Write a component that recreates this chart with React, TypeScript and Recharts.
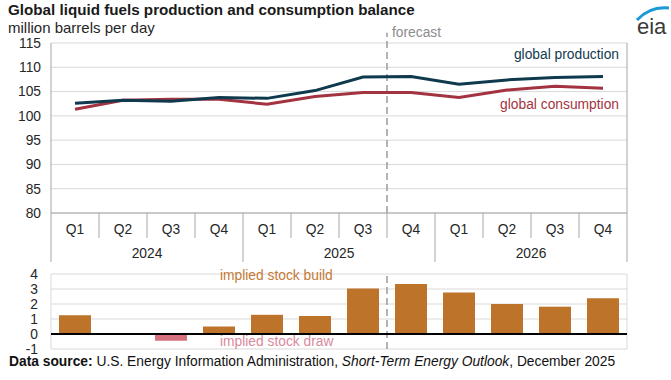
import React from "react";
import { LineChart, Line, BarChart, Bar, Cell, XAxis, YAxis, CartesianGrid, ReferenceLine } from "recharts";

const quarters = ["Q1", "Q2", "Q3", "Q4", "Q1", "Q2", "Q3", "Q4", "Q1", "Q2", "Q3", "Q4"];
const years = ["2024", "2025", "2026"];
const production = [102.6, 103.2, 103.0, 103.8, 103.6, 105.2, 108.0, 108.1, 106.5, 107.4, 107.9, 108.1];
const consumption = [101.35, 103.2, 103.4, 103.4, 102.4, 104.0, 104.8, 104.8, 103.8, 105.3, 106.1, 105.7];
const stockChange = [1.25, 0, -0.45, 0.5, 1.28, 1.2, 3.04, 3.34, 2.77, 2.0, 1.82, 2.39];
const topTicks = [80, 85, 90, 95, 100, 105, 110, 115];
const bottomTicks = [-1, 0, 1, 2, 3, 4];
const forecastStart = 7;

const FONT = '"Liberation Sans", Arial, sans-serif';
const PLOT_W = 576;
const BAND = PLOT_W / quarters.length;
const GRID = "#d9d9d9";
const SEP = "#a6a6a6";

const data = quarters.map((q, i) => ({
  x: i + 0.5,
  production: production[i],
  consumption: consumption[i],
  stock: stockChange[i],
}));
const centers = data.map((d) => d.x);

function QuarterTick(props: any) {
  const { x, y, payload } = props;
  const i = Math.floor(payload.value);
  const left = x - BAND / 2;
  const right = x + BAND / 2;
  return (
    <g>
      <line x1={left} x2={left} y1={y} y2={y + (i % 4 === 0 ? 49 : 25)} stroke={SEP} />
      {i === quarters.length - 1 && <line x1={right} x2={right} y1={y} y2={y + 49} stroke={SEP} />}
      <text x={x} y={y + 16} textAnchor="middle" dominantBaseline="central" fontSize={13.8} fill="#262626" fontFamily={FONT}>
        {quarters[i]}
      </text>
      {i % 4 === 1 && (
        <text x={right} y={y + 40} textAnchor="middle" dominantBaseline="central" fontSize={13.8} fill="#262626" fontFamily={FONT}>
          {years[Math.floor(i / 4)]}
        </text>
      )}
    </g>
  );
}

function EiaLogo() {
  return (
    <svg width={40} height={38} style={{ position: "absolute", left: 632, top: 2 }}>
      <path d="M5 18 Q 18 4 37 6" stroke="#1a9bd7" strokeWidth={3} fill="none" />
      <text x={5} y={32} fontSize={22} fontFamily={FONT} fill="#3a3a3a">eia</text>
    </svg>
  );
}

export default function App() {
  const tickStyle = { fontSize: 13.8, fill: "#262626", fontFamily: FONT };
  return (
    <div style={{ position: "absolute", left: 0, top: 0, width: 671, height: 380, background: "#fff", fontFamily: FONT, overflow: "hidden" }}>
      <div style={{ position: "absolute", left: 8, top: 1, fontSize: 15.2, fontWeight: "bold", color: "#1a1a1a", whiteSpace: "nowrap" }}>
        Global liquid fuels production and consumption balance
      </div>
      <div style={{ position: "absolute", left: 8, top: 19, fontSize: 15, color: "#262626", whiteSpace: "nowrap" }}>million barrels per day</div>
      <EiaLogo />

      <div style={{ position: "absolute", left: 0, top: 0 }}>
        <LineChart width={671} height={265} data={data} margin={{ top: 43, right: 44, bottom: 0, left: 0 }}>
          <CartesianGrid horizontal vertical={false} stroke={GRID} />
          <XAxis
            dataKey="x"
            type="number"
            domain={[0, quarters.length]}
            ticks={centers}
            interval={0}
            height={52}
            tickSize={0}
            tickMargin={0}
            tickLine={false}
            axisLine={{ stroke: SEP }}
            tick={<QuarterTick />}
          />
          <YAxis
            domain={[80, 115]}
            ticks={topTicks}
            interval={0}
            width={51}
            tickSize={0}
            tickMargin={10}
            tickLine={false}
            axisLine={false}
            tick={tickStyle}
          />
          <ReferenceLine x={0} stroke={SEP} />
          <ReferenceLine x={quarters.length} stroke={SEP} />
          <ReferenceLine
            segment={[{ x: forecastStart, y: 80 }, { x: forecastStart, y: 117.1 }]}
            ifOverflow="visible"
            stroke="#9a9a9a"
            strokeWidth={1.5}
            strokeDasharray="7 4"
          />
          <Line type="linear" dataKey="consumption" stroke="#a33340" strokeWidth={3} dot={false} isAnimationActive={false} />
          <Line type="linear" dataKey="production" stroke="#0f3a4e" strokeWidth={3} dot={false} isAnimationActive={false} />
        </LineChart>
      </div>

      <div style={{ position: "absolute", left: 392, top: 25, fontSize: 13.8, color: "#8c8c8c" }}>forecast</div>
      <div style={{ position: "absolute", right: 52, top: 47, fontSize: 13.8, color: "#0f3a4e", whiteSpace: "nowrap" }}>global production</div>
      <div style={{ position: "absolute", right: 52, top: 97, fontSize: 13.8, color: "#a33340", whiteSpace: "nowrap" }}>global consumption</div>

      <div style={{ position: "absolute", left: 0, top: 265 }}>
        <BarChart width={671} height={96} data={data} margin={{ top: 9, right: 44, bottom: 12, left: 0 }}>
          <CartesianGrid horizontal vertical={false} stroke={GRID} />
          <XAxis dataKey="x" type="number" domain={[0, quarters.length]} hide />
          <YAxis
            domain={[-1, 4]}
            ticks={bottomTicks}
            interval={0}
            width={51}
            tickSize={0}
            tickMargin={13}
            tickLine={false}
            axisLine={false}
            tick={tickStyle}
          />
          <ReferenceLine x={0} stroke={GRID} />
          <ReferenceLine x={quarters.length} stroke={GRID} />
          <ReferenceLine x={forecastStart} stroke="#9a9a9a" strokeWidth={1.5} strokeDasharray="7 4" />
          <Bar dataKey="stock" barSize={32} isAnimationActive={false}>
            {data.map((d, i) => (
              <Cell key={i} fill={d.stock < 0 ? "#d7707e" : "#bd732a"} />
            ))}
          </Bar>
          <ReferenceLine y={0} stroke="#000" strokeWidth={2} />
        </BarChart>
      </div>

      <div style={{ position: "absolute", left: 220, top: 268, fontSize: 13.8, color: "#c47a35", whiteSpace: "nowrap" }}>implied stock build</div>
      <div style={{ position: "absolute", left: 220, top: 334, fontSize: 13.8, color: "#d98a9b", whiteSpace: "nowrap" }}>implied stock draw</div>

      <div style={{ position: "absolute", left: 9, top: 354, fontSize: 13.8, color: "#111", whiteSpace: "nowrap" }}>
        <b>Data source:</b> U.S. Energy Information Administration, <i>Short-Term Energy Outlook</i>, December 2025
      </div>
    </div>
  );
}
